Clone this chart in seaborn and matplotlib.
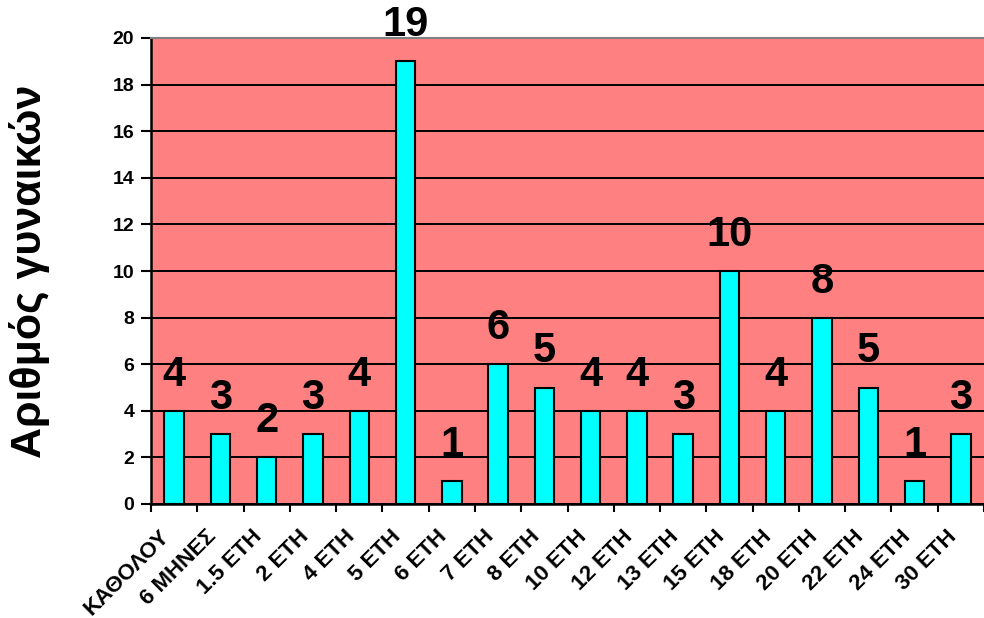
import matplotlib
matplotlib.use("Agg")
import matplotlib.pyplot as plt
import matplotlib.transforms as mtransforms
from matplotlib.ticker import FixedLocator, MultipleLocator
import seaborn as sns
import pandas as pd

# Duration categories and number of women in each
categories = ["ΚΑΘΟΛΟΥ", "6 ΜΗΝΕΣ", "1.5 ΕΤΗ", "2 ΕΤΗ", "4 ΕΤΗ", "5 ΕΤΗ", "6 ΕΤΗ",
              "7 ΕΤΗ", "8 ΕΤΗ", "10 ΕΤΗ", "12 ΕΤΗ", "13 ΕΤΗ", "15 ΕΤΗ", "18 ΕΤΗ",
              "20 ΕΤΗ", "22 ΕΤΗ", "24 ΕΤΗ", "30 ΕΤΗ"]
counts = [4, 3, 2, 3, 4, 19, 1, 6, 5, 4, 4, 3, 10, 4, 8, 5, 1, 3]
y_label = "Αριθμός γυναικών"

df = pd.DataFrame({"category": categories, "count": counts})

sns.set_theme(style="white")
plt.rcParams["font.family"] = ["Liberation Sans", "DejaVu Sans"]
plt.rcParams["font.weight"] = "bold"
for key in ["text.color", "axes.labelcolor", "xtick.color", "ytick.color"]:
    plt.rcParams[key] = "black"

fig = plt.figure(figsize=(9.84, 6.18), dpi=100)
ax = fig.add_axes([151 / 984, 1 - 504 / 618, 1 - 151 / 984, (504 - 38) / 618])
ax.set_facecolor("#FF8080")

sns.barplot(data=df, x="category", y="count", ax=ax, color="#00FFFF",
            saturation=1, width=0.42, edgecolor="black", linewidth=1.5, zorder=3)

ax.set_ylim(0, 20)
ax.set_xlim(-0.5, len(categories) - 0.5)
ax.yaxis.set_major_locator(MultipleLocator(2))
ax.grid(axis="y", color="black", linewidth=1.4, zorder=1)
ax.set_axisbelow(True)

# Category boundary ticks on the x axis, labels at the bar centres
ax.xaxis.set_minor_locator(FixedLocator([i - 0.5 for i in range(len(categories) + 1)]))
ax.tick_params(axis="x", which="major", length=0, pad=8)
ax.tick_params(axis="x", which="minor", length=6, width=1.5, color="black",
               direction="out", bottom=True)
ax.tick_params(axis="y", length=7, width=1.5, color="black", direction="out",
               left=True, labelsize=14, pad=5)
ax.set_xticks(range(len(categories)))
ax.set_xticklabels(categories, rotation=45, ha="right", rotation_mode="anchor",
                   fontsize=16, fontweight="bold")
shift = mtransforms.ScaledTranslation(-0.15, -0.11, fig.dpi_scale_trans)
for t in ax.get_xticklabels():
    t.set_transform(t.get_transform() + shift)
for t in ax.get_yticklabels():
    t.set_fontweight("bold")

for side in ["left", "bottom"]:
    ax.spines[side].set_color("black")
    ax.spines[side].set_linewidth(1.8)
ax.spines["top"].set_color("#808080")
ax.spines["top"].set_linewidth(1.5)
ax.spines["right"].set_visible(False)

ax.set_xlabel("")
ax.set_ylabel(y_label, fontsize=31, fontweight="bold", labelpad=45)

# Value labels above each bar
for i, v in enumerate(counts):
    ax.annotate(str(v), xy=(i, v), xytext=(0, 18), textcoords="offset points",
                ha="center", va="baseline", fontsize=30, fontweight="bold",
                annotation_clip=False, clip_on=False)

fig.savefig("out.png", dpi=100)
